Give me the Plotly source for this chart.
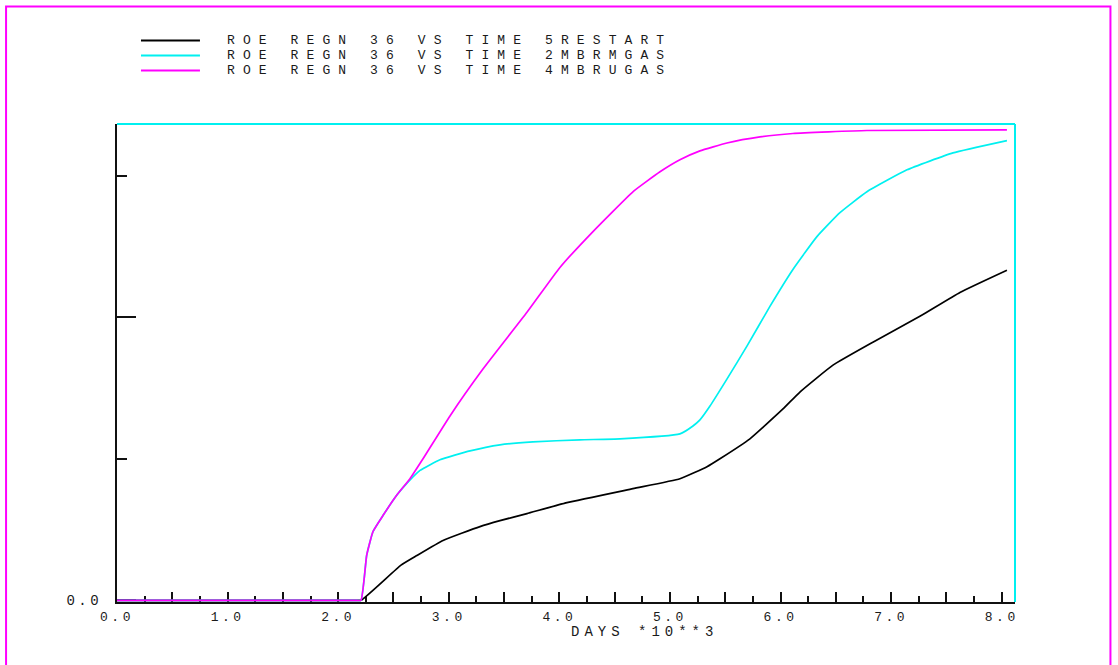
import plotly.graph_objects as go

# ---- data -------------------------------------------------------------
series_names = [
    "ROE REGN 36 VS TIME 5RESTART",
    "ROE REGN 36 VS TIME 2MBRMGAS",
    "ROE REGN 36 VS TIME 4MBRUGAS",
]
series_colors = ["#000000", "#00f0f0", "#ff00ff"]

restart_days = [0.0, 2.15, 2.206, 2.568, 2.712, 2.948, 3.282, 3.463, 3.707, 4.069, 4.665,
                5.090, 5.335, 5.452, 5.723, 6.022, 6.175, 6.474, 6.835, 7.260, 7.622, 8.047]
restart_roe = [0.0, 0.0, 0.0, 0.0249, 0.0317, 0.0423, 0.0521, 0.0563, 0.0613, 0.0690, 0.0789,
               0.0859, 0.0944, 0.1000, 0.1141, 0.1352, 0.1472, 0.1662, 0.1824, 0.2007, 0.2176, 0.2333]

mgas_days = [0.0, 2.15, 2.206, 2.258, 2.315, 2.405, 2.529, 2.586, 2.740, 2.920, 3.192, 3.463,
             3.761, 4.186, 4.548, 5.090, 5.208, 5.271, 5.362, 5.515, 5.696, 5.904, 6.112,
             6.329, 6.537, 6.781, 7.143, 7.559, 8.047]
mgas_roe = [0.0, 0.0, 0.0, 0.0319, 0.0486, 0.0599, 0.0742, 0.0796, 0.0918, 0.0993, 0.1056, 0.1099,
            0.1120, 0.1134, 0.1141, 0.1176, 0.1232, 0.1275, 0.1373, 0.1563, 0.1796, 0.2077, 0.2338,
            0.2570, 0.2739, 0.2887, 0.3042, 0.3162, 0.3249]

ugas_days = [0.0, 2.15, 2.206, 2.258, 2.315, 2.405, 2.529, 2.649, 2.767, 3.011, 3.309, 3.707,
             4.005, 4.304, 4.665, 4.910, 5.090, 5.271, 5.515, 5.814, 6.112, 6.781, 8.047]
ugas_roe = [0.0, 0.0, 0.0, 0.0319, 0.0486, 0.0599, 0.0742, 0.0859, 0.1000, 0.1303, 0.1634, 0.2035,
            0.2352, 0.2606, 0.2887, 0.3028, 0.3113, 0.3176, 0.3232, 0.3275, 0.3299, 0.3320, 0.3324]

x_tick_values = [0, 1, 2, 3, 4, 5, 6, 7, 8]
x_tick_labels = ["0.0", "1.0", "2.0", "3.0", "4.0", "5.0", "6.0", "7.0", "8.0"]
x_title = "DAYS *10**3"
y_zero_label = "0.0"

# ---- geometry ---------------------------------------------------------
W, H = 1118, 665
L, R, T, B = 117, 1015.5, 124, 602
X_MAX = 8.12
Y_MAX = 0.3366
Y_MIN = -0.0012


def px(x):
    return (x - L) / (R - L)


def py(y):
    return (B - y) / (B - T)


FONT = "Liberation Mono"
TXT = "#1a1a1a"

fig = go.Figure()
for name, color, xs, ys in zip(
    series_names, series_colors,
    [restart_days, mgas_days, ugas_days],
    [restart_roe, mgas_roe, ugas_roe],
):
    fig.add_trace(go.Scatter(x=xs, y=ys, mode="lines", name=name,
                             line=dict(color=color, width=1.7, shape="spline", smoothing=0.4),
                             showlegend=False, hoverinfo="skip"))

shapes = []
# cyan top and right frame of the plotting area
shapes.append(dict(type="line", xref="paper", yref="paper", x0=0, x1=1, y0=1, y1=1,
                   line=dict(color="#00f0f0", width=2)))
shapes.append(dict(type="line", xref="paper", yref="paper", x0=1, x1=1, y0=0, y1=1,
                   line=dict(color="#00f0f0", width=2)))
# magenta page frame
shapes.append(dict(type="path", xref="paper", yref="paper",
                   path=f"M {px(6)} {py(680)} L {px(6)} {py(6.5)} L {px(1111)} {py(6.5)} L {px(1111)} {py(680)}",
                   line=dict(color="#ff00ff", width=2)))

# key: one sample line and one text row per series
annotations = []
row_y = [40.5, 55.5, 70.5]
for name, color, yy in zip(series_names, series_colors, row_y):
    shapes.append(dict(type="line", xref="paper", yref="paper",
                       x0=px(141), x1=px(200), y0=py(yy), y1=py(yy),
                       line=dict(color=color, width=2)))
    annotations.append(dict(text=name, xref="paper", yref="paper", x=px(225), y=py(yy),
                            xanchor="left", yanchor="middle", showarrow=False,
                            font=dict(family=FONT, size=13, color=TXT)))

annotations.append(dict(text=x_title, xref="paper", yref="paper", x=px(569), y=py(632),
                        xanchor="left", yanchor="middle", showarrow=False,
                        font=dict(family=FONT, size=14, color=TXT)))

fig.update_layout(
    width=W, height=H,
    margin=dict(l=L, r=W - R, t=T, b=H - B, pad=0),
    paper_bgcolor="white", plot_bgcolor="white",
    shapes=shapes, annotations=annotations,
    xaxis=dict(range=[0, X_MAX], showgrid=False, zeroline=False, layer="below traces",
               showline=True, linecolor="#111111", linewidth=2,
               tickvals=[v / 2 for v in range(17)],
               ticktext=[x_tick_labels[i // 2] if i % 2 == 0 else "" for i in range(17)],
               ticks="inside", ticklen=10, tickwidth=1.5, tickcolor="#111111",
               minor=dict(tickvals=[0.25 + 0.5 * k for k in range(16)], ticks="inside",
                          ticklen=6, tickwidth=1.5, tickcolor="#111111", showgrid=False),
               tickfont=dict(family=FONT, size=13, color=TXT), ticklabelstandoff=1,
               fixedrange=True),
    yaxis=dict(range=[Y_MIN, Y_MAX], showgrid=False, zeroline=False, layer="below traces",
               showline=True, linecolor="#111111", linewidth=2,
               tickvals=[0, 0.2], ticktext=[y_zero_label, ""],
               ticks="inside", ticklen=19, tickwidth=1.5, tickcolor="#111111",
               minor=dict(tickvals=[0.1, 0.3], ticks="inside", ticklen=10,
                          tickwidth=1.5, tickcolor="#111111", showgrid=False),
               tickfont=dict(family=FONT, size=14, color=TXT), ticklabelstandoff=10,
               fixedrange=True),
)

# widen the glyph pitch of the stroke-style labels, keeping left-anchored texts in place
spacing_js = """
document.querySelectorAll('.annotation-text').forEach(function(t){
  var isKey = t.textContent.indexOf('ROE') === 0;
  var left = t.getBBox().x;
  t.style.letterSpacing = isKey ? '8.1px' : '5px';
  t.setAttribute('text-anchor', 'start');
  t.setAttribute('x', left);
});
document.querySelectorAll('.xtick text, .ytick text').forEach(function(t){
  t.style.letterSpacing = '3.5px';
});
"""

fig.write_html("out.html", config={"displayModeBar": False}, post_script=spacing_js)
